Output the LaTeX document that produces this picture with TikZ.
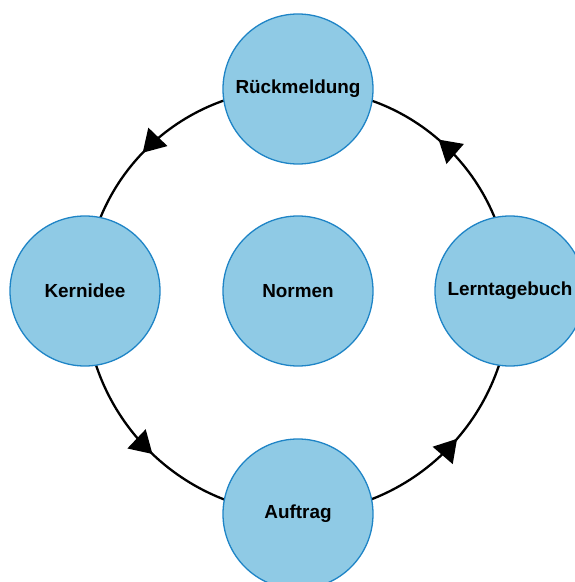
\documentclass[tikz,border=0pt]{standalone}
\usepackage{fontspec}
\setmainfont{Liberation Sans}
\usetikzlibrary{arrows.meta,decorations.markings,backgrounds}
\definecolor{nodefill}{RGB}{143,202,229}
\definecolor{nodeborder}{RGB}{30,132,198}
\tikzset{
  topic/.style={circle, draw=nodeborder, fill=nodefill, line width=1.3pt,
    minimum size=150pt, inner sep=0pt, font=\fontsize{18.9}{22}\selectfont\bfseries},
  conn/.style={line width=2.3pt, black,
    decoration={markings, mark=at position 0.53 with {\arrow{Triangle[length=22pt,width=26pt]}}},
    postaction=decorate},
}
\begin{document}
\begin{tikzpicture}[x=1pt,y=1pt]
\useasboundingbox (0,0) rectangle (575,582);
\node[topic] (R) at (298,493) {Rückmeldung};
\node[topic] (K) at (85,291) {Kernidee};
\node[topic] (N) at (298,291) {Normen};
\node[topic] (L) at (510,291) {Lerntagebuch};
\node[topic] (A) at (298,68) {Auftrag};
\begin{scope}[on background layer]
\draw[conn] (R.center) to[bend right=45] (K.center);
\draw[conn] (K.center) to[bend right=45] (A.center);
\draw[conn] (A.center) to[bend right=45] (L.center);
\draw[conn] (L.center) to[bend right=45] (R.center);
\end{scope}
\end{tikzpicture}
\end{document}
